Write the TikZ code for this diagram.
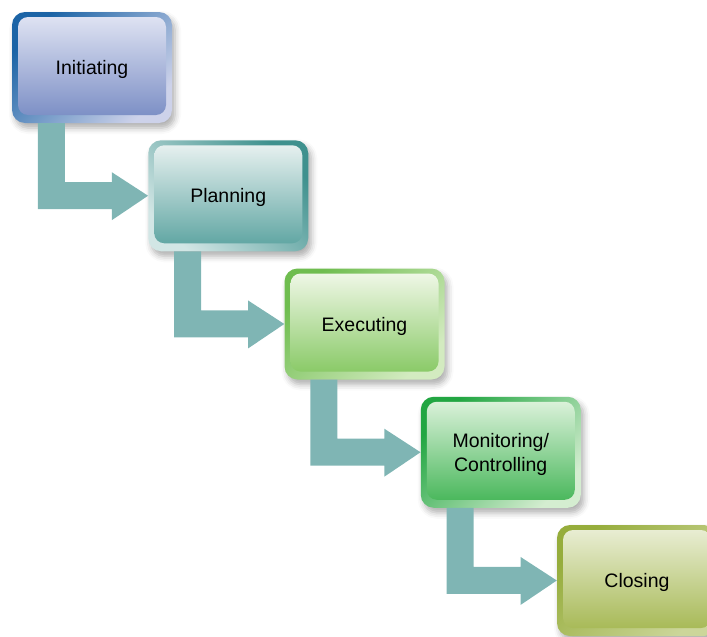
\documentclass[tikz,border=0pt]{standalone}
\usepackage{fontspec}
\setmainfont{Liberation Sans}
\usetikzlibrary{calc,shadows.blur}
\definecolor{arrowteal}{HTML}{7FB5B4}
% box 1
\definecolor{bAa}{HTML}{1C64A6}\definecolor{bAb}{HTML}{CDD2EA}
\definecolor{iAa}{HTML}{DEE2F2}\definecolor{iAb}{HTML}{7D90C6}
% box 2
\definecolor{bBa}{HTML}{3F918E}\definecolor{bBb}{HTML}{D2E6E5}
\definecolor{iBa}{HTML}{E6F0EF}\definecolor{iBb}{HTML}{62A7A4}
% box 3
\definecolor{bCa}{HTML}{6FBD4F}\definecolor{bCb}{HTML}{D3EBC0}
\definecolor{iCa}{HTML}{EFF7E6}\definecolor{iCb}{HTML}{8ACA68}
% box 4
\definecolor{bDa}{HTML}{22A642}\definecolor{bDb}{HTML}{D4EDD0}
\definecolor{iDa}{HTML}{DAF1D9}\definecolor{iDb}{HTML}{4BB85D}
% box 5
\definecolor{bEa}{HTML}{96AD3C}\definecolor{bEb}{HTML}{CCD69A}
\definecolor{iEa}{HTML}{E8EDD2}\definecolor{iEb}{HTML}{A8BA58}
\begin{document}
\begin{tikzpicture}[x=1pt,y=-1pt,
  outerbox/.style={rectangle, rounded corners=13pt, minimum width=160pt,
    minimum height=111pt, inner sep=0pt,
    blur shadow={shadow xshift=3pt, shadow yshift=-5pt, shadow blur radius=6pt, shadow opacity=32}},
  innerbox/.style={rectangle, rounded corners=10pt, minimum width=148pt,
    minimum height=98pt, inner sep=0pt},
  boxtext/.style={inner sep=0pt, align=center, text=black,
    font=\fontsize{19.5}{24}\selectfont},
  arrowfill/.style={fill=arrowteal}]
\useasboundingbox (0,0) rectangle (707,637);
% boxes
\node[outerbox, top color=bAa, bottom color=bAb, shading angle=45] (b1) at (92,67.5) {};
\node[innerbox, top color=iAa, bottom color=iAb] (i1) at (92,66) {};
\node[boxtext] (t1) at (92,69.5) {Initiating};
\node[outerbox, top color=bBa, bottom color=bBb, shading angle=-45] (b2) at (228.25,195.75) {};
\node[innerbox, top color=iBa, bottom color=iBb] (i2) at (228.25,194.25) {};
\node[boxtext] (t2) at (228.25,197.75) {Planning};
\node[outerbox, top color=bCa, bottom color=bCb, shading angle=45] (b3) at (364.5,324) {};
\node[innerbox, top color=iCa, bottom color=iCb] (i3) at (364.5,322.5) {};
\node[boxtext] (t3) at (364.5,326) {Executing};
\node[outerbox, top color=bDa, bottom color=bDb, shading angle=45] (b4) at (500.75,452.25) {};
\node[innerbox, top color=iDa, bottom color=iDb] (i4) at (500.75,450.75) {};
\node[boxtext] (t4) at (500.75,454) {Monitoring/\\Controlling};
\node[outerbox, top color=bEa, bottom color=bEb, shading angle=45] (b5) at (637,580.5) {};
\node[innerbox, top color=iEa, bottom color=iEb] (i5) at (637,579) {};
\node[boxtext] (t5) at (637,582.5) {Closing};
% connectors
\foreach \a/\b in {b1/b2,b2/b3,b3/b4,b4/b5}{
  \fill[arrowfill] ($(\a.south west)+(26,0)$) -- ($(\a.south west)+(26,86)$)
    -- ($(\a.south west)+(100,86)$) -- ($(\a.south west)+(100,97)$)
    -- (\b.west) -- ($(\a.south west)+(100,49)$) -- ($(\a.south west)+(100,59)$)
    -- ($(\a.south west)+(53,59)$) -- ($(\a.south west)+(53,0)$) -- cycle;
}
\end{tikzpicture}
\end{document}
